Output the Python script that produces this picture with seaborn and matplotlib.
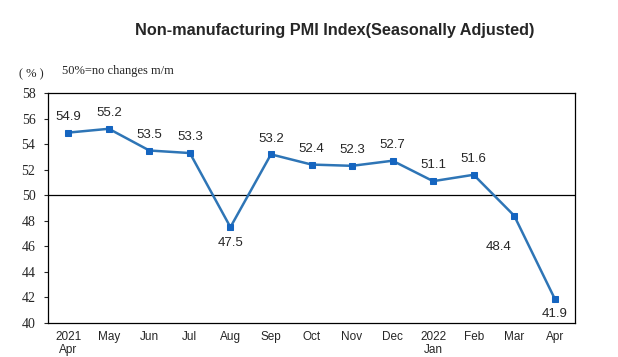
import matplotlib
matplotlib.use('Agg')
import matplotlib.pyplot as plt
import seaborn as sns
import pandas as pd

months = ['2021\nApr', 'May', 'Jun', 'Jul', 'Aug', 'Sep', 'Oct', 'Nov', 'Dec',
          '2022\nJan', 'Feb', 'Mar', 'Apr']
pmi = [54.9, 55.2, 53.5, 53.3, 47.5, 53.2, 52.4, 52.3, 52.7, 51.1, 51.6, 48.4, 41.9]
# label placement: above / below / below-left
label_pos = ['up', 'up', 'up', 'up', 'down', 'up', 'up', 'up', 'up', 'up', 'up', 'downleft', 'down']

df = pd.DataFrame({'x': range(len(months)), 'pmi': pmi})

sns.set_style('white')
plt.rcParams['font.family'] = ['Liberation Sans', 'DejaVu Sans']

fig = plt.figure(figsize=(6.18, 3.57), dpi=100)
ax = fig.add_axes([48 / 618, 1 - 323 / 357, (575 - 48) / 618, (323 - 93) / 357])

sns.lineplot(data=df, x='x', y='pmi', ax=ax, color='#2E75B6', linewidth=1.8,
             marker='s', markersize=5, markerfacecolor='#1565C0',
             markeredgecolor='#1565C0')
ax.axhline(50, color='black', linewidth=0.9, zorder=1)

for i, (v, p) in enumerate(zip(pmi, label_pos)):
    if p == 'up':
        ax.annotate(f'{v}', (i, v), xytext=(0, 7), textcoords='offset points',
                    ha='center', va='bottom', fontsize=9.5)
    elif p == 'down':
        ax.annotate(f'{v}', (i, v), xytext=(0, -7), textcoords='offset points',
                    ha='center', va='top', fontsize=9.5)
    else:
        ax.annotate(f'{v}', (i, v), xytext=(-11, -18), textcoords='offset points',
                    ha='center', va='top', fontsize=9.5)

ax.set_xlim(-0.5, len(months) - 0.5)
ax.set_ylim(40, 58)
ax.set_yticks(range(40, 59, 2))
ax.set_yticklabels([str(t) for t in range(40, 59, 2)], family='Liberation Serif', fontsize=10)
ax.set_xticks(range(len(months)))
ax.set_xticklabels(months, fontsize=8.5, linespacing=1.1)
ax.tick_params(axis='x', length=0, pad=6)
ax.tick_params(axis='y', length=3, width=0.8, direction='out', left=True, pad=6)
ax.set_xlabel('')
ax.set_ylabel('')
for s in ax.spines.values():
    s.set_color('black')
    s.set_linewidth(0.9)

fig.text(335 / 618, 1 - 30 / 357, 'Non-manufacturing PMI Index(Seasonally Adjusted)',
         ha='center', va='center', fontsize=11.7, fontweight='bold')
fig.text(31 / 618, 1 - 74 / 357, '( % )', ha='center', va='center', fontsize=9,
         family='Liberation Serif')
fig.text(62 / 618, 1 - 71 / 357, '50%=no changes m/m', ha='left', va='center',
         fontsize=9, family='Liberation Serif')

fig.savefig('out.png', dpi=100)
